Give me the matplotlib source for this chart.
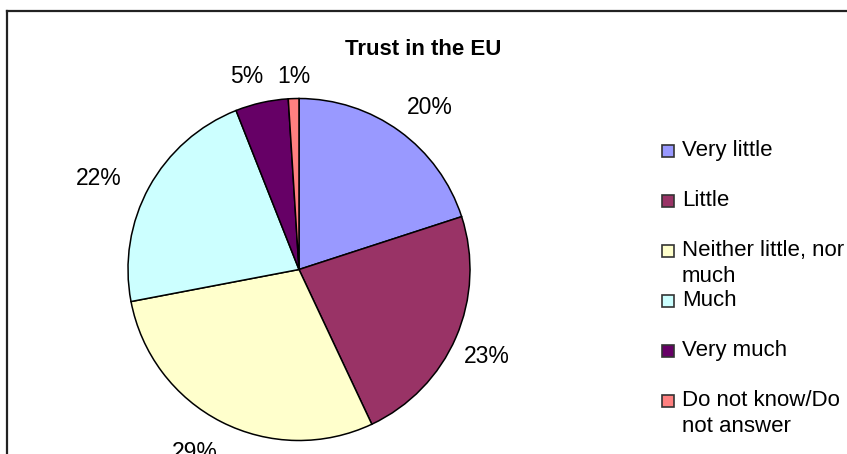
import numpy as np
import matplotlib.pyplot as plt
from matplotlib.lines import Line2D
from matplotlib.patches import Rectangle

plt.rcParams['font.family'] = ['Liberation Sans', 'DejaVu Sans']

categories = ["Very little", "Little", "Neither little, nor\nmuch", "Much",
              "Very much", "Do not know/Do\nnot answer"]
shares = [20, 23, 29, 22, 5, 1]
colors = ["#9999FF", "#993366", "#FFFFCC", "#CCFFFF", "#660066", "#FF8080"]
# percentage label placement: distance (pie radii) and angle nudge (deg)
label_dist = [1.22, 1.21, 1.23, 1.29, 1.17, 1.13]
label_turn = [-3, -1.5, -2.7, 4.3, 2.4, -0.3]

W, H = 847, 454
fig = plt.figure(figsize=(W / 100, H / 100), dpi=100)

# pie centre (299, 269) px from top-left, radius ~171 px
cx, cy, r = 299, 269.5, 171
ax = fig.add_axes([(cx - r) / W, (H - cy - r) / H, 2 * r / W, 2 * r / H])
wedges, _, pcts = ax.pie(shares, colors=colors, startangle=90, counterclock=False,
                         autopct=lambda p: f"{p:.0f}%", pctdistance=1.0,
                         wedgeprops=dict(edgecolor="black", linewidth=1.1),
                         textprops=dict(fontsize=16.5, color="black"))
for w, t, d, turn in zip(wedges, pcts, label_dist, label_turn):
    a = np.deg2rad((w.theta1 + w.theta2) / 2 + turn)
    t.set_position((d * np.cos(a), d * np.sin(a)))
ax.set_xlim(-1, 1)
ax.set_ylim(-1, 1)
ax.set_aspect("equal")
ax.axis("off")

fig.text(423 / W, 1 - 55 / H, "Trust in the EU", ha="center", va="baseline",
         fontsize=16, fontweight="bold")

# legend, Excel style: fixed slots, wrapped labels spill downward
for i, (cat, col) in enumerate(zip(categories, colors)):
    y = 151 + i * 50
    fig.patches.append(Rectangle((662 / W, 1 - (y + 6) / H), 12 / W, 12 / H,
                                 transform=fig.transFigure, facecolor=col,
                                 edgecolor="#333333", linewidth=1.2))
    fig.text(682 / W, 1 - (y - 11) / H, cat, ha="left", va="top", fontsize=16,
             linespacing=1.3)

# chart frame (cut off at right and bottom)
fig.lines.append(Line2D([7 / W, 7 / W], [0, 1 - 11 / H], transform=fig.transFigure,
                        color="#222222", linewidth=1.6))
fig.lines.append(Line2D([7 / W, 1], [1 - 11 / H, 1 - 11 / H], transform=fig.transFigure,
                        color="#222222", linewidth=1.6))

fig.savefig("out.png", dpi=100, facecolor="white")
